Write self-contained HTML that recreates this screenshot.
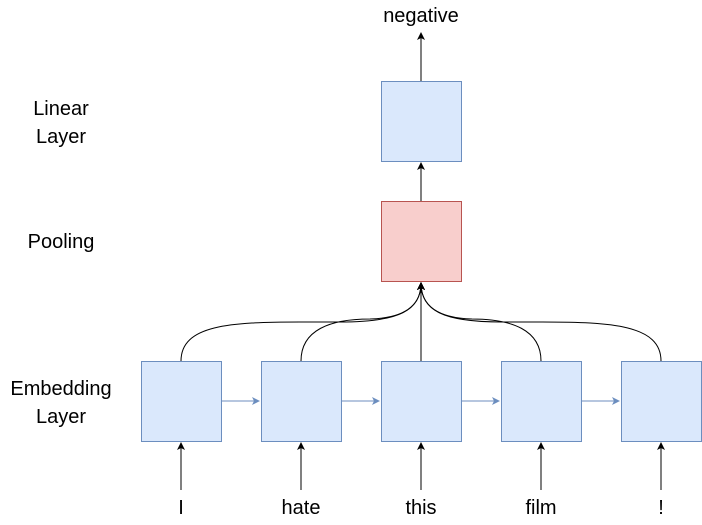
<!DOCTYPE html>
<html><head><style>
body{margin:0;background:#fff;}
text{font-family:"Liberation Sans",sans-serif;font-size:20px;fill:#000;}
</style></head><body>
<svg width="702" height="520" viewBox="0 0 702 520" xmlns="http://www.w3.org/2000/svg">
<defs>
<marker id="a" markerWidth="8" markerHeight="8" refX="7" refY="4" orient="auto" markerUnits="userSpaceOnUse"><path d="M0,0 L8,4 L0,8 L2,4 Z" fill="#000"/></marker>
<marker id="b" markerWidth="8" markerHeight="8" refX="7" refY="4" orient="auto" markerUnits="userSpaceOnUse"><path d="M0,0 L8,4 L0,8 L2,4 Z" fill="#6c8ebf"/></marker>
</defs>
<g fill="none" stroke="#000" stroke-width="1">
<path d="M181 361 C181 325 230 322 300 322 L340 322 C400 322 421 310 421 283" marker-end="url(#a)"/>
<path d="M301 361 C301 330 330 319 370 319 C405 318 421 305 421 283" marker-end="url(#a)"/>
<path d="M421 361 L421 283" marker-end="url(#a)"/>
<path d="M541 361 C541 330 512 319 472 319 C437 318 421 305 421 283" marker-end="url(#a)"/>
<path d="M661 361 C661 325 612 322 542 322 L502 322 C442 322 421 310 421 283" marker-end="url(#a)"/>
<path d="M421 201 L421 163" marker-end="url(#a)"/>
<path d="M421 81 L421 33" marker-end="url(#a)"/>
<path d="M181 490 L181 443" marker-end="url(#a)"/>
<path d="M301 490 L301 443" marker-end="url(#a)"/>
<path d="M421 490 L421 443" marker-end="url(#a)"/>
<path d="M541 490 L541 443" marker-end="url(#a)"/>
<path d="M661 490 L661 443" marker-end="url(#a)"/>
</g>
<g fill="none" stroke="#6c8ebf">
<path d="M221 401 L259 401" marker-end="url(#b)"/>
<path d="M341 401 L379 401" marker-end="url(#b)"/>
<path d="M461 401 L499 401" marker-end="url(#b)"/>
<path d="M581 401 L619 401" marker-end="url(#b)"/>
</g>
<g fill="#dae8fc" stroke="#6c8ebf">
<rect x="141.5" y="361.5" width="80" height="80"/>
<rect x="261.5" y="361.5" width="80" height="80"/>
<rect x="381.5" y="361.5" width="80" height="80"/>
<rect x="501.5" y="361.5" width="80" height="80"/>
<rect x="621.5" y="361.5" width="80" height="80"/>
<rect x="381.5" y="81.5" width="80" height="80"/>
</g>
<rect x="381.5" y="201.5" width="80" height="80" fill="#f8cecc" stroke="#b85450"/>
<g text-anchor="middle">
<text x="421" y="22">negative</text>
<text x="61" y="115">Linear</text>
<text x="61" y="143">Layer</text>
<text x="61" y="248">Pooling</text>
<text x="61" y="395">Embedding</text>
<text x="61" y="423">Layer</text>
<text x="181" y="514">I</text>
<text x="301" y="514">hate</text>
<text x="421" y="514">this</text>
<text x="541" y="514">film</text>
<text x="661" y="514">!</text>
</g>
</svg>
</body></html>
